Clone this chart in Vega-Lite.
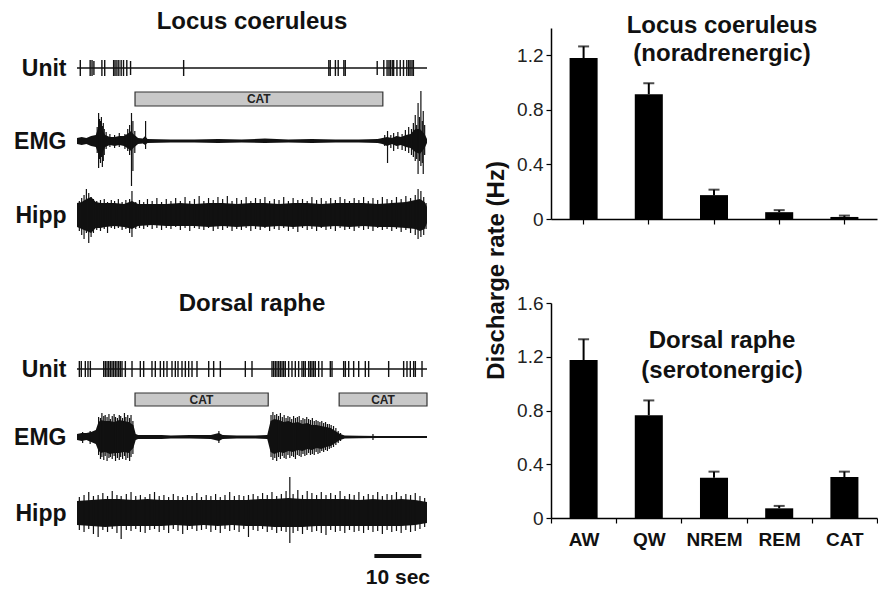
{
  "$schema": "https://vega.github.io/schema/vega-lite/v6.json",
  "background": "white",
  "padding": {"left": 13, "top": 10, "right": 0, "bottom": 0},
  "config": {
    "font": "Liberation Sans",
    "view": {"stroke": null},
    "axis": {"grid": false, "labelFont": "Liberation Sans", "titleFont": "Liberation Sans"},
    "title": {"font": "Liberation Sans", "fontWeight": "bold", "color": "#111", "fontSize": 24}
  },
  "datasets": {
    "lcBase": [{"start": 0, "end": 74.5}],
    "lcSpikes": [
      {"t": 0.7, "lo": -8, "hi": 8}, {"t": 2.8, "lo": -8, "hi": 8}, {"t": 3.2, "lo": -8, "hi": 8}, {"t": 3.6, "lo": -7, "hi": 7},
      {"t": 5.3, "lo": -8, "hi": 8}, {"t": 5.9, "lo": -8, "hi": 8}, {"t": 7.8, "lo": -8, "hi": 8}, {"t": 8.1, "lo": -8, "hi": 8},
      {"t": 8.5, "lo": -8, "hi": 8}, {"t": 8.9, "lo": -8, "hi": 8}, {"t": 9.4, "lo": -8, "hi": 8}, {"t": 9.9, "lo": -8, "hi": 8},
      {"t": 10.6, "lo": -8, "hi": 8}, {"t": 11.4, "lo": -7, "hi": 7}, {"t": 22.7, "lo": -8, "hi": 8}, {"t": 53.6, "lo": -8, "hi": 8},
      {"t": 53.9, "lo": -8, "hi": 8}, {"t": 55.0, "lo": -8, "hi": 8}, {"t": 55.6, "lo": -8, "hi": 8}, {"t": 56.8, "lo": -8, "hi": 8},
      {"t": 57.1, "lo": -8, "hi": 8}, {"t": 63.9, "lo": -7, "hi": 7}, {"t": 65.3, "lo": -8, "hi": 8}, {"t": 66.0, "lo": -8, "hi": 8},
      {"t": 66.4, "lo": -8, "hi": 8}, {"t": 66.7, "lo": -8, "hi": 8}, {"t": 67.1, "lo": -8, "hi": 8}, {"t": 67.4, "lo": -8, "hi": 8},
      {"t": 68.1, "lo": -8, "hi": 8}, {"t": 68.8, "lo": -8, "hi": 8}, {"t": 69.5, "lo": -8, "hi": 8}, {"t": 70.2, "lo": -8, "hi": 8},
      {"t": 70.6, "lo": -8, "hi": 8}, {"t": 70.9, "lo": -8, "hi": 8}, {"t": 71.3, "lo": -8, "hi": 8}, {"t": 71.6, "lo": -8, "hi": 8}
    ],
    "lcCat": [{"start": 12.35, "end": 65.1, "mid": 38.7, "label": "CAT"}],
    "lcEmgEnv": [
      {"t": 0, "lo": -3, "hi": 3}, {"t": 1, "lo": -4, "hi": 4}, {"t": 2, "lo": -3, "hi": 3}, {"t": 3, "lo": -5, "hi": 5},
      {"t": 4, "lo": -6, "hi": 6}, {"t": 4.5, "lo": -12, "hi": 13}, {"t": 5, "lo": -14, "hi": 14}, {"t": 5.5, "lo": -11, "hi": 10},
      {"t": 6, "lo": -6, "hi": 6}, {"t": 7, "lo": -4, "hi": 4}, {"t": 8, "lo": -5, "hi": 4}, {"t": 9, "lo": -4, "hi": 5},
      {"t": 10, "lo": -5, "hi": 5}, {"t": 11, "lo": -8, "hi": 8}, {"t": 11.5, "lo": -10, "hi": 10}, {"t": 12, "lo": -7, "hi": 7},
      {"t": 13, "lo": -3, "hi": 3}, {"t": 14, "lo": -2.5, "hi": 2.5}, {"t": 14.5, "lo": -4, "hi": 5}, {"t": 15, "lo": -2, "hi": 2},
      {"t": 20, "lo": -1.5, "hi": 1.5}, {"t": 25, "lo": -1.5, "hi": 1.5}, {"t": 30, "lo": -2, "hi": 2}, {"t": 35, "lo": -1.5, "hi": 1.5},
      {"t": 40, "lo": -2, "hi": 2.5}, {"t": 45, "lo": -1.5, "hi": 1.5}, {"t": 50, "lo": -2, "hi": 2}, {"t": 55, "lo": -1.5, "hi": 1.5},
      {"t": 60, "lo": -1.5, "hi": 1.5}, {"t": 64, "lo": -2, "hi": 2}, {"t": 65, "lo": -3, "hi": 3}, {"t": 66, "lo": -5, "hi": 4},
      {"t": 67, "lo": -3, "hi": 3}, {"t": 68, "lo": -5, "hi": 5}, {"t": 69, "lo": -4, "hi": 4}, {"t": 70, "lo": -6, "hi": 6},
      {"t": 71, "lo": -7, "hi": 7}, {"t": 72, "lo": -11, "hi": 12}, {"t": 73, "lo": -13, "hi": 12}, {"t": 74, "lo": -7, "hi": 7},
      {"t": 74.5, "lo": -2, "hi": 2}
    ],
    "lcEmgSpk": [
      {"t": 4.3, "lo": -12, "hi": 14}, {"t": 4.6, "lo": -27, "hi": 28}, {"t": 4.8, "lo": -18, "hi": 22}, {"t": 5.0, "lo": -22, "hi": 20},
      {"t": 5.2, "lo": -16, "hi": 24}, {"t": 5.4, "lo": -26, "hi": 15}, {"t": 5.6, "lo": -20, "hi": 18}, {"t": 5.8, "lo": -14, "hi": 12},
      {"t": 6.2, "lo": -8, "hi": 9}, {"t": 7.0, "lo": -6, "hi": 7}, {"t": 8.0, "lo": -7, "hi": 6}, {"t": 9.0, "lo": -6, "hi": 8},
      {"t": 10.2, "lo": -8, "hi": 7}, {"t": 10.8, "lo": -10, "hi": 12}, {"t": 11.2, "lo": -14, "hi": 16}, {"t": 11.6, "lo": -45, "hi": 28},
      {"t": 11.9, "lo": -30, "hi": 20}, {"t": 12.3, "lo": -12, "hi": 10}, {"t": 14.6, "lo": -8, "hi": 20}, {"t": 65.5, "lo": -5, "hi": 6},
      {"t": 66.1, "lo": -22, "hi": 10}, {"t": 66.8, "lo": -7, "hi": 6}, {"t": 67.4, "lo": -10, "hi": 8}, {"t": 68.3, "lo": -8, "hi": 9},
      {"t": 69.2, "lo": -9, "hi": 7}, {"t": 69.9, "lo": -10, "hi": 11}, {"t": 70.6, "lo": -12, "hi": 14}, {"t": 71.2, "lo": -14, "hi": 12},
      {"t": 71.6, "lo": -16, "hi": 18}, {"t": 72.0, "lo": -20, "hi": 26}, {"t": 72.3, "lo": -18, "hi": 16}, {"t": 72.6, "lo": -33, "hi": 38},
      {"t": 72.9, "lo": -20, "hi": 24}, {"t": 73.2, "lo": -25, "hi": 50}, {"t": 73.5, "lo": -22, "hi": 20}, {"t": 73.7, "lo": -33, "hi": 30},
      {"t": 74.0, "lo": -14, "hi": 16}
    ],
    "lcHippEnv": [
      {"t": 0, "lo": -12, "hi": 12}, {"t": 1, "lo": -14, "hi": 13}, {"t": 2, "lo": -16, "hi": 16}, {"t": 3, "lo": -18, "hi": 18},
      {"t": 4, "lo": -13, "hi": 13}, {"t": 5, "lo": -13, "hi": 12}, {"t": 6, "lo": -12, "hi": 12}, {"t": 8, "lo": -11, "hi": 12},
      {"t": 10, "lo": -12, "hi": 11}, {"t": 11.7, "lo": -14, "hi": 14}, {"t": 13, "lo": -11, "hi": 11}, {"t": 16, "lo": -10, "hi": 11},
      {"t": 19, "lo": -11, "hi": 11}, {"t": 22, "lo": -11, "hi": 12}, {"t": 25, "lo": -11, "hi": 11}, {"t": 28, "lo": -12, "hi": 12},
      {"t": 31, "lo": -11, "hi": 12}, {"t": 34, "lo": -12, "hi": 11}, {"t": 37, "lo": -11, "hi": 12}, {"t": 40, "lo": -12, "hi": 12},
      {"t": 43, "lo": -11, "hi": 11}, {"t": 46, "lo": -12, "hi": 12}, {"t": 49, "lo": -11, "hi": 12}, {"t": 52, "lo": -12, "hi": 11},
      {"t": 55, "lo": -11, "hi": 12}, {"t": 58, "lo": -12, "hi": 12}, {"t": 61, "lo": -11, "hi": 12}, {"t": 64, "lo": -12, "hi": 11},
      {"t": 67, "lo": -12, "hi": 12}, {"t": 70, "lo": -13, "hi": 13}, {"t": 72, "lo": -14, "hi": 15}, {"t": 73, "lo": -16, "hi": 16},
      {"t": 74, "lo": -14, "hi": 13}, {"t": 74.5, "lo": -8, "hi": 8}
    ],
    "lcHippSpk": [
      {"t": 0.5, "lo": -16, "hi": 14}, {"t": 1.0, "lo": -20, "hi": 17}, {"t": 1.5, "lo": -24, "hi": 20}, {"t": 2.0, "lo": -18, "hi": 26},
      {"t": 2.5, "lo": -28, "hi": 22}, {"t": 3.0, "lo": -22, "hi": 18}, {"t": 3.5, "lo": -18, "hi": 16}, {"t": 4.2, "lo": -15, "hi": 14},
      {"t": 5.0, "lo": -16, "hi": 15}, {"t": 5.8, "lo": -14, "hi": 16}, {"t": 6.5, "lo": -18, "hi": 13}, {"t": 7.3, "lo": -13, "hi": 15},
      {"t": 8.0, "lo": -14, "hi": 14}, {"t": 8.8, "lo": -13, "hi": 16}, {"t": 9.6, "lo": -15, "hi": 13}, {"t": 10.4, "lo": -14, "hi": 15},
      {"t": 11.2, "lo": -18, "hi": 16}, {"t": 11.7, "lo": -22, "hi": 24}, {"t": 12.5, "lo": -14, "hi": 13}, {"t": 13.3, "lo": -13, "hi": 15},
      {"t": 14.2, "lo": -14, "hi": 13}, {"t": 15.0, "lo": -12, "hi": 16}, {"t": 16.0, "lo": -14, "hi": 14}, {"t": 17.0, "lo": -13, "hi": 17},
      {"t": 18.0, "lo": -15, "hi": 13}, {"t": 19.0, "lo": -13, "hi": 16}, {"t": 20.0, "lo": -14, "hi": 14}, {"t": 21.0, "lo": -12, "hi": 17},
      {"t": 22.0, "lo": -15, "hi": 14}, {"t": 23.0, "lo": -13, "hi": 18}, {"t": 24.0, "lo": -16, "hi": 14}, {"t": 25.0, "lo": -13, "hi": 16},
      {"t": 26.0, "lo": -14, "hi": 19}, {"t": 27.0, "lo": -15, "hi": 14}, {"t": 28.0, "lo": -13, "hi": 17}, {"t": 29.0, "lo": -16, "hi": 15},
      {"t": 30.0, "lo": -14, "hi": 18}, {"t": 31.0, "lo": -15, "hi": 16}, {"t": 32.0, "lo": -13, "hi": 19}, {"t": 33.0, "lo": -16, "hi": 14},
      {"t": 34.0, "lo": -14, "hi": 17}, {"t": 35.0, "lo": -15, "hi": 15}, {"t": 36.0, "lo": -13, "hi": 18}, {"t": 37.0, "lo": -16, "hi": 14},
      {"t": 38.0, "lo": -14, "hi": 17}, {"t": 39.0, "lo": -15, "hi": 16}, {"t": 40.0, "lo": -13, "hi": 18}, {"t": 41.0, "lo": -16, "hi": 14},
      {"t": 42.0, "lo": -14, "hi": 16}, {"t": 43.0, "lo": -15, "hi": 15}, {"t": 44.0, "lo": -13, "hi": 18}, {"t": 45.0, "lo": -16, "hi": 14},
      {"t": 46.0, "lo": -14, "hi": 17}, {"t": 47.0, "lo": -17, "hi": 15}, {"t": 48.0, "lo": -13, "hi": 16}, {"t": 49.0, "lo": -15, "hi": 14},
      {"t": 50.0, "lo": -14, "hi": 18}, {"t": 51.0, "lo": -16, "hi": 15}, {"t": 52.0, "lo": -13, "hi": 17}, {"t": 53.0, "lo": -15, "hi": 14},
      {"t": 54.0, "lo": -14, "hi": 17}, {"t": 55.0, "lo": -16, "hi": 15}, {"t": 56.0, "lo": -13, "hi": 18}, {"t": 57.0, "lo": -15, "hi": 16},
      {"t": 58.0, "lo": -14, "hi": 14}, {"t": 59.0, "lo": -16, "hi": 17}, {"t": 60.0, "lo": -13, "hi": 15}, {"t": 61.0, "lo": -15, "hi": 18},
      {"t": 62.0, "lo": -14, "hi": 14}, {"t": 63.0, "lo": -16, "hi": 17}, {"t": 64.0, "lo": -13, "hi": 15}, {"t": 65.0, "lo": -15, "hi": 18},
      {"t": 66.0, "lo": -14, "hi": 16}, {"t": 67.0, "lo": -16, "hi": 15}, {"t": 68.0, "lo": -14, "hi": 18}, {"t": 69.0, "lo": -17, "hi": 16},
      {"t": 70.0, "lo": -15, "hi": 19}, {"t": 71.0, "lo": -18, "hi": 17}, {"t": 72.0, "lo": -20, "hi": 20}, {"t": 72.6, "lo": -24, "hi": 26},
      {"t": 73.2, "lo": -22, "hi": 24}, {"t": 73.8, "lo": -20, "hi": 18}, {"t": 74.3, "lo": -14, "hi": 12}
    ],
    "drBase": [{"start": 0, "end": 74.5}],
    "drSpikes": [
      {"t": 0.5}, {"t": 0.92}, {"t": 1.77}, {"t": 2.34}, {"t": 2.84}, {"t": 5.68}, {"t": 6.03}, {"t": 6.39}, {"t": 6.74},
      {"t": 7.09}, {"t": 7.45}, {"t": 7.8}, {"t": 8.16}, {"t": 8.51}, {"t": 8.87}, {"t": 9.22}, {"t": 9.58}, {"t": 10.29},
      {"t": 11.71}, {"t": 13.48}, {"t": 14.19}, {"t": 15.96}, {"t": 16.67}, {"t": 17.74}, {"t": 18.45}, {"t": 19.16},
      {"t": 20.22}, {"t": 20.93}, {"t": 21.5}, {"t": 22.35}, {"t": 23.06}, {"t": 23.77}, {"t": 24.48}, {"t": 25.54},
      {"t": 28.03}, {"t": 29.09}, {"t": 30.51}, {"t": 35.83}, {"t": 37.25}, {"t": 41.51}, {"t": 41.86}, {"t": 42.22},
      {"t": 42.57}, {"t": 42.93}, {"t": 43.28}, {"t": 43.64}, {"t": 43.99}, {"t": 44.34}, {"t": 45.05}, {"t": 45.76},
      {"t": 46.47}, {"t": 47.18}, {"t": 47.89}, {"t": 48.25}, {"t": 48.6}, {"t": 49.31}, {"t": 49.67}, {"t": 50.02},
      {"t": 50.38}, {"t": 50.73}, {"t": 51.44}, {"t": 52.15}, {"t": 53.92}, {"t": 54.28}, {"t": 56.76}, {"t": 57.12},
      {"t": 57.83}, {"t": 58.89}, {"t": 59.96}, {"t": 61.37}, {"t": 62.08}, {"t": 66.34}, {"t": 69.53}, {"t": 70.24},
      {"t": 70.95}, {"t": 71.66}, {"t": 72.02}, {"t": 73.44}
    ],
    "drCat": [
      {"start": 12.35, "end": 40.7, "mid": 26.5, "label": "CAT"},
      {"start": 55.8, "end": 74.5, "mid": 65.15, "label": "CAT"}
    ],
    "drEmgEnv": [
      {"t": 0, "lo": -3, "hi": 3}, {"t": 1, "lo": -4, "hi": 4}, {"t": 2, "lo": -3, "hi": 4}, {"t": 3, "lo": -5, "hi": 5},
      {"t": 4, "lo": -7, "hi": 7}, {"t": 4.5, "lo": -13, "hi": 14}, {"t": 5, "lo": -16, "hi": 17}, {"t": 6, "lo": -15, "hi": 16},
      {"t": 7, "lo": -17, "hi": 16}, {"t": 8, "lo": -16, "hi": 15}, {"t": 9, "lo": -16, "hi": 17}, {"t": 10, "lo": -15, "hi": 16},
      {"t": 11, "lo": -16, "hi": 15}, {"t": 12, "lo": -11, "hi": 12}, {"t": 12.5, "lo": -3, "hi": 3}, {"t": 13, "lo": -2, "hi": 2},
      {"t": 15, "lo": -2, "hi": 2}, {"t": 18, "lo": -2, "hi": 2}, {"t": 20, "lo": -1.5, "hi": 1.5}, {"t": 24, "lo": -1.5, "hi": 2},
      {"t": 28.5, "lo": -2, "hi": 2}, {"t": 30.2, "lo": -4, "hi": 4}, {"t": 31, "lo": -2, "hi": 2}, {"t": 34, "lo": -1.5, "hi": 1.5},
      {"t": 38, "lo": -1.5, "hi": 1.5}, {"t": 40.5, "lo": -2, "hi": 2}, {"t": 41.2, "lo": -15, "hi": 16}, {"t": 42, "lo": -17, "hi": 18},
      {"t": 43, "lo": -15, "hi": 17}, {"t": 44, "lo": -16, "hi": 15}, {"t": 45, "lo": -14, "hi": 16}, {"t": 46, "lo": -15, "hi": 14},
      {"t": 47, "lo": -13, "hi": 15}, {"t": 48, "lo": -14, "hi": 13}, {"t": 49, "lo": -12, "hi": 14}, {"t": 50, "lo": -13, "hi": 12},
      {"t": 51, "lo": -11, "hi": 12}, {"t": 52, "lo": -12, "hi": 11}, {"t": 53, "lo": -10, "hi": 10}, {"t": 54, "lo": -9, "hi": 9},
      {"t": 55, "lo": -6, "hi": 6}, {"t": 56, "lo": -3, "hi": 3}, {"t": 57, "lo": -1.5, "hi": 1.5}, {"t": 60, "lo": -1.2, "hi": 1.2},
      {"t": 64, "lo": -1, "hi": 1}, {"t": 68, "lo": -1, "hi": 1}, {"t": 72, "lo": -1, "hi": 1}, {"t": 74.5, "lo": -1, "hi": 1}
    ],
    "drEmgSpk": [
      {"t": 1.2, "lo": -6, "hi": 5}, {"t": 2.8, "lo": -7, "hi": 6},
      {"t": 4.6, "lo": -18, "hi": 20}, {"t": 5.0, "lo": -22, "hi": 19}, {"t": 5.3, "lo": -20, "hi": 24}, {"t": 5.7, "lo": -23, "hi": 21},
      {"t": 6.0, "lo": -19, "hi": 22}, {"t": 6.4, "lo": -24, "hi": 20}, {"t": 6.8, "lo": -21, "hi": 23}, {"t": 7.1, "lo": -20, "hi": 18},
      {"t": 7.5, "lo": -22, "hi": 21}, {"t": 7.9, "lo": -19, "hi": 23}, {"t": 8.2, "lo": -24, "hi": 20}, {"t": 8.6, "lo": -21, "hi": 19},
      {"t": 9.0, "lo": -23, "hi": 22}, {"t": 9.3, "lo": -20, "hi": 21}, {"t": 9.7, "lo": -22, "hi": 19}, {"t": 10.1, "lo": -19, "hi": 24},
      {"t": 10.4, "lo": -23, "hi": 20}, {"t": 10.8, "lo": -21, "hi": 22}, {"t": 11.2, "lo": -24, "hi": 19}, {"t": 11.5, "lo": -20, "hi": 22},
      {"t": 11.9, "lo": -17, "hi": 16}, {"t": 30.2, "lo": -6, "hi": 6},
      {"t": 41.3, "lo": -20, "hi": 22}, {"t": 41.7, "lo": -23, "hi": 25}, {"t": 42.1, "lo": -21, "hi": 22}, {"t": 42.5, "lo": -24, "hi": 23},
      {"t": 42.9, "lo": -20, "hi": 21}, {"t": 43.3, "lo": -22, "hi": 24}, {"t": 43.7, "lo": -19, "hi": 20}, {"t": 44.1, "lo": -21, "hi": 22},
      {"t": 44.5, "lo": -22, "hi": 19}, {"t": 44.9, "lo": -18, "hi": 21}, {"t": 45.3, "lo": -21, "hi": 20}, {"t": 45.7, "lo": -19, "hi": 18},
      {"t": 46.1, "lo": -20, "hi": 21}, {"t": 46.5, "lo": -22, "hi": 19}, {"t": 46.9, "lo": -18, "hi": 20}, {"t": 47.3, "lo": -19, "hi": 21},
      {"t": 47.7, "lo": -20, "hi": 17}, {"t": 48.1, "lo": -17, "hi": 19}, {"t": 48.5, "lo": -19, "hi": 18}, {"t": 48.9, "lo": -18, "hi": 20},
      {"t": 49.3, "lo": -16, "hi": 18}, {"t": 49.7, "lo": -18, "hi": 17}, {"t": 50.1, "lo": -17, "hi": 19}, {"t": 50.5, "lo": -18, "hi": 16},
      {"t": 50.9, "lo": -15, "hi": 17}, {"t": 51.3, "lo": -17, "hi": 16}, {"t": 51.7, "lo": -16, "hi": 15}, {"t": 52.1, "lo": -14, "hi": 16},
      {"t": 52.5, "lo": -15, "hi": 14}, {"t": 52.9, "lo": -13, "hi": 15}, {"t": 53.3, "lo": -14, "hi": 13}, {"t": 53.7, "lo": -12, "hi": 13},
      {"t": 54.1, "lo": -11, "hi": 12}, {"t": 54.6, "lo": -10, "hi": 11}, {"t": 55.1, "lo": -8, "hi": 9}, {"t": 55.6, "lo": -6, "hi": 6},
      {"t": 56.1, "lo": -4, "hi": 4}, {"t": 63, "lo": -3, "hi": 3}
    ],
    "drHippEnv": [
      {"t": 0, "lo": -12, "hi": 12}, {"t": 3, "lo": -13, "hi": 13}, {"t": 6, "lo": -14, "hi": 14}, {"t": 9, "lo": -13, "hi": 14},
      {"t": 12, "lo": -13, "hi": 13}, {"t": 15, "lo": -13, "hi": 14}, {"t": 18, "lo": -13, "hi": 13}, {"t": 21, "lo": -12, "hi": 13},
      {"t": 24, "lo": -13, "hi": 13}, {"t": 27, "lo": -12, "hi": 13}, {"t": 30, "lo": -13, "hi": 13}, {"t": 33, "lo": -12, "hi": 13},
      {"t": 36, "lo": -13, "hi": 13}, {"t": 39, "lo": -13, "hi": 14}, {"t": 42, "lo": -14, "hi": 14}, {"t": 45, "lo": -14, "hi": 15},
      {"t": 48, "lo": -14, "hi": 14}, {"t": 51, "lo": -13, "hi": 14}, {"t": 54, "lo": -13, "hi": 14}, {"t": 57, "lo": -13, "hi": 14},
      {"t": 60, "lo": -13, "hi": 13}, {"t": 63, "lo": -13, "hi": 14}, {"t": 66, "lo": -13, "hi": 13}, {"t": 69, "lo": -13, "hi": 14},
      {"t": 72, "lo": -12, "hi": 13}, {"t": 74.5, "lo": -10, "hi": 11}
    ],
    "drHippSpk": [
      {"t": 0.5, "lo": -17, "hi": 16}, {"t": 1.5, "lo": -19, "hi": 18}, {"t": 2.5, "lo": -16, "hi": 21}, {"t": 3.5, "lo": -21, "hi": 17},
      {"t": 4.5, "lo": -24, "hi": 18}, {"t": 5.5, "lo": -17, "hi": 20}, {"t": 6.5, "lo": -19, "hi": 17}, {"t": 7.5, "lo": -16, "hi": 22},
      {"t": 8.5, "lo": -20, "hi": 18}, {"t": 9.4, "lo": -26, "hi": 17}, {"t": 10.5, "lo": -17, "hi": 19}, {"t": 11.5, "lo": -18, "hi": 21},
      {"t": 12.5, "lo": -16, "hi": 17}, {"t": 13.5, "lo": -19, "hi": 18}, {"t": 14.5, "lo": -20, "hi": 16}, {"t": 15.5, "lo": -17, "hi": 19},
      {"t": 16.5, "lo": -16, "hi": 21}, {"t": 17.5, "lo": -19, "hi": 17}, {"t": 18.5, "lo": -17, "hi": 18}, {"t": 19.5, "lo": -20, "hi": 16},
      {"t": 20.5, "lo": -16, "hi": 19}, {"t": 21.5, "lo": -18, "hi": 17}, {"t": 22.5, "lo": -21, "hi": 16}, {"t": 23.5, "lo": -17, "hi": 18},
      {"t": 24.5, "lo": -16, "hi": 17}, {"t": 25.5, "lo": -18, "hi": 20}, {"t": 26.5, "lo": -17, "hi": 16}, {"t": 27.5, "lo": -16, "hi": 18},
      {"t": 28.5, "lo": -19, "hi": 17}, {"t": 29.5, "lo": -17, "hi": 19}, {"t": 30.5, "lo": -20, "hi": 16}, {"t": 31.5, "lo": -16, "hi": 18},
      {"t": 32.5, "lo": -18, "hi": 21}, {"t": 33.5, "lo": -17, "hi": 17}, {"t": 34.5, "lo": -19, "hi": 18}, {"t": 35.5, "lo": -16, "hi": 17},
      {"t": 36.5, "lo": -24, "hi": 18}, {"t": 37.5, "lo": -17, "hi": 19}, {"t": 38.5, "lo": -18, "hi": 17}, {"t": 39.5, "lo": -16, "hi": 20},
      {"t": 40.5, "lo": -19, "hi": 18}, {"t": 41.5, "lo": -17, "hi": 21}, {"t": 42.5, "lo": -20, "hi": 17}, {"t": 43.5, "lo": -18, "hi": 19},
      {"t": 44.5, "lo": -19, "hi": 22}, {"t": 45.3, "lo": -30, "hi": 36}, {"t": 46.0, "lo": -20, "hi": 19}, {"t": 47.0, "lo": -18, "hi": 23},
      {"t": 48.0, "lo": -21, "hi": 18}, {"t": 49.0, "lo": -17, "hi": 22}, {"t": 50.0, "lo": -19, "hi": 20}, {"t": 51.0, "lo": -18, "hi": 18},
      {"t": 52.0, "lo": -20, "hi": 21}, {"t": 53.0, "lo": -22, "hi": 18}, {"t": 54.0, "lo": -17, "hi": 20}, {"t": 55.0, "lo": -19, "hi": 18},
      {"t": 56.0, "lo": -18, "hi": 22}, {"t": 57.0, "lo": -20, "hi": 17}, {"t": 58.0, "lo": -17, "hi": 19}, {"t": 59.0, "lo": -19, "hi": 18},
      {"t": 60.0, "lo": -18, "hi": 21}, {"t": 61.0, "lo": -20, "hi": 17}, {"t": 62.0, "lo": -17, "hi": 19}, {"t": 63.0, "lo": -19, "hi": 18},
      {"t": 64.0, "lo": -18, "hi": 21}, {"t": 65.0, "lo": -21, "hi": 17}, {"t": 66.0, "lo": -17, "hi": 19}, {"t": 67.0, "lo": -19, "hi": 18},
      {"t": 68.0, "lo": -18, "hi": 21}, {"t": 69.0, "lo": -20, "hi": 17}, {"t": 70.0, "lo": -17, "hi": 19}, {"t": 71.0, "lo": -19, "hi": 18},
      {"t": 72.0, "lo": -18, "hi": 20}, {"t": 73.0, "lo": -16, "hi": 17}, {"t": 74.0, "lo": -14, "hi": 15}
    ],
    "scaleBar": [{"start": 63.3, "end": 73.3, "mid": 68.3, "label": "10 sec"}],
    "lc": [
      {"state": "AW", "rate": 1.18, "err": 1.265},
      {"state": "QW", "rate": 0.915, "err": 0.995},
      {"state": "NREM", "rate": 0.175, "err": 0.215},
      {"state": "REM", "rate": 0.05, "err": 0.065},
      {"state": "CAT", "rate": 0.015, "err": 0.025}
    ],
    "dr": [
      {"state": "AW", "rate": 1.176, "err": 1.33},
      {"state": "QW", "rate": 0.765, "err": 0.875},
      {"state": "NREM", "rate": 0.3, "err": 0.345},
      {"state": "REM", "rate": 0.072, "err": 0.09},
      {"state": "CAT", "rate": 0.305, "err": 0.345}
    ]
  },
  "spacing": 54,
  "hconcat": [
    {
      "bounds": "flush",
      "spacing": 0,
      "vconcat": [
        {
          "width": 350, "height": 64,
          "title": {"text": "Locus coeruleus", "offset": -6, "frame": "group", "anchor": "middle"},
          "layer": [
            {
              "data": {"name": "lcBase"},
              "mark": {"type": "rule", "strokeWidth": 1.6, "color": "#111"},
              "encoding": {
                "x": {"field": "start", "type": "quantitative", "scale": {"domain": [0, 74.5], "nice": false, "zero": false}, "axis": null},
                "x2": {"field": "end"},
                "y": {"datum": 0, "type": "quantitative", "scale": {"domain": [-24, 40], "nice": false, "zero": false},
                  "axis": {"values": [0], "labelExpr": "'Unit'", "domain": false, "ticks": false, "tickSize": 0, "title": null, "labelFontSize": 23, "labelFontWeight": "bold", "labelColor": "#111", "labelPadding": 11, "labelAlign": "right", "labelBaseline": "middle"}}
              }
            },
            {
              "data": {"name": "lcSpikes"},
              "mark": {"type": "rule", "strokeWidth": 1.4, "color": "#111"},
              "encoding": {
                "x": {"field": "t", "type": "quantitative"},
                "y": {"field": "lo", "type": "quantitative"},
                "y2": {"field": "hi"}
              }
            }
          ]
        },
        {
          "width": 350, "height": 14,
          "data": {"name": "lcCat"},
          "layer": [
            {
              "mark": {"type": "bar", "color": "#c8c8c8", "stroke": "#333", "strokeWidth": 1.2},
              "encoding": {
                "x": {"field": "start", "type": "quantitative", "scale": {"domain": [0, 74.5], "nice": false, "zero": false}, "axis": null},
                "x2": {"field": "end"},
                "y": {"datum": 0, "type": "quantitative", "scale": {"domain": [0, 1], "nice": false, "zero": false}, "axis": null},
                "y2": {"datum": 1}
              }
            },
            {
              "mark": {"type": "text", "fontSize": 12, "fontWeight": "bold", "color": "#222"},
              "encoding": {
                "x": {"field": "mid", "type": "quantitative"},
                "y": {"datum": 0.5, "type": "quantitative"},
                "text": {"field": "label"}
              }
            }
          ]
        },
        {
          "width": 350, "height": 70,
          "layer": [
            {
              "data": {"name": "lcEmgEnv"},
              "mark": {"type": "area", "color": "#111", "interpolate": "linear"},
              "encoding": {
                "x": {"field": "t", "type": "quantitative", "scale": {"domain": [0, 74.5], "nice": false, "zero": false}, "axis": null},
                "y": {"field": "hi", "type": "quantitative", "scale": {"domain": [-35, 35], "nice": false, "zero": false},
                  "axis": {"values": [0], "labelExpr": "'EMG'", "domain": false, "ticks": false, "tickSize": 0, "title": null, "labelFontSize": 23, "labelFontWeight": "bold", "labelColor": "#111", "labelPadding": 11, "labelAlign": "right", "labelBaseline": "middle"}},
                "y2": {"field": "lo"}
              }
            },
            {
              "data": {"name": "lcEmgSpk"},
              "mark": {"type": "rule", "strokeWidth": 1.2, "color": "#111"},
              "encoding": {
                "x": {"field": "t", "type": "quantitative"},
                "y": {"field": "lo", "type": "quantitative"},
                "y2": {"field": "hi"}
              }
            }
          ]
        },
        {
          "width": 350, "height": 78,
          "layer": [
            {
              "data": {"name": "lcHippEnv"},
              "mark": {"type": "area", "color": "#111", "interpolate": "linear"},
              "encoding": {
                "x": {"field": "t", "type": "quantitative", "scale": {"domain": [0, 74.5], "nice": false, "zero": false}, "axis": null},
                "y": {"field": "hi", "type": "quantitative", "scale": {"domain": [-39, 39], "nice": false, "zero": false},
                  "axis": {"values": [0], "labelExpr": "'Hipp'", "domain": false, "ticks": false, "tickSize": 0, "title": null, "labelFontSize": 23, "labelFontWeight": "bold", "labelColor": "#111", "labelPadding": 11, "labelAlign": "right", "labelBaseline": "middle"}},
                "y2": {"field": "lo"}
              }
            },
            {
              "data": {"name": "lcHippSpk"},
              "mark": {"type": "rule", "strokeWidth": 1.2, "color": "#111"},
              "encoding": {
                "x": {"field": "t", "type": "quantitative"},
                "y": {"field": "lo", "type": "quantitative"},
                "y2": {"field": "hi"}
              }
            }
          ]
        },
        {
          "width": 350, "height": 139,
          "title": {"text": "Dorsal raphe", "offset": -62, "frame": "group", "anchor": "middle"},
          "layer": [
            {
              "data": {"name": "drBase"},
              "mark": {"type": "rule", "strokeWidth": 1.6, "color": "#111"},
              "encoding": {
                "x": {"field": "start", "type": "quantitative", "scale": {"domain": [0, 74.5], "nice": false, "zero": false}, "axis": null},
                "x2": {"field": "end"},
                "y": {"datum": 0, "type": "quantitative", "scale": {"domain": [-24, 115], "nice": false, "zero": false},
                  "axis": {"values": [0], "labelExpr": "'Unit'", "domain": false, "ticks": false, "tickSize": 0, "title": null, "labelFontSize": 23, "labelFontWeight": "bold", "labelColor": "#111", "labelPadding": 11, "labelAlign": "right", "labelBaseline": "middle"}}
              }
            },
            {
              "data": {"name": "drSpikes"},
              "mark": {"type": "rule", "strokeWidth": 1.4, "color": "#111"},
              "encoding": {
                "x": {"field": "t", "type": "quantitative"},
                "y": {"datum": -8, "type": "quantitative"},
                "y2": {"datum": 8}
              }
            }
          ]
        },
        {
          "width": 350, "height": 13,
          "data": {"name": "drCat"},
          "layer": [
            {
              "mark": {"type": "bar", "color": "#c8c8c8", "stroke": "#333", "strokeWidth": 1.2},
              "encoding": {
                "x": {"field": "start", "type": "quantitative", "scale": {"domain": [0, 74.5], "nice": false, "zero": false}, "axis": null},
                "x2": {"field": "end"},
                "y": {"datum": 0, "type": "quantitative", "scale": {"domain": [0, 1], "nice": false, "zero": false}, "axis": null},
                "y2": {"datum": 1}
              }
            },
            {
              "mark": {"type": "text", "fontSize": 12, "fontWeight": "bold", "color": "#222"},
              "encoding": {
                "x": {"field": "mid", "type": "quantitative"},
                "y": {"datum": 0.5, "type": "quantitative"},
                "text": {"field": "label"}
              }
            }
          ]
        },
        {
          "width": 350, "height": 62,
          "layer": [
            {
              "data": {"name": "drEmgEnv"},
              "mark": {"type": "area", "color": "#111", "interpolate": "linear"},
              "encoding": {
                "x": {"field": "t", "type": "quantitative", "scale": {"domain": [0, 74.5], "nice": false, "zero": false}, "axis": null},
                "y": {"field": "hi", "type": "quantitative", "scale": {"domain": [-31, 31], "nice": false, "zero": false},
                  "axis": {"values": [0], "labelExpr": "'EMG'", "domain": false, "ticks": false, "tickSize": 0, "title": null, "labelFontSize": 23, "labelFontWeight": "bold", "labelColor": "#111", "labelPadding": 11, "labelAlign": "right", "labelBaseline": "middle"}},
                "y2": {"field": "lo"}
              }
            },
            {
              "data": {"name": "drEmgSpk"},
              "mark": {"type": "rule", "strokeWidth": 1.2, "color": "#111"},
              "encoding": {
                "x": {"field": "t", "type": "quantitative"},
                "y": {"field": "lo", "type": "quantitative"},
                "y2": {"field": "hi"}
              }
            }
          ]
        },
        {
          "width": 350, "height": 80,
          "layer": [
            {
              "data": {"name": "drHippEnv"},
              "mark": {"type": "area", "color": "#111", "interpolate": "linear"},
              "encoding": {
                "x": {"field": "t", "type": "quantitative", "scale": {"domain": [0, 74.5], "nice": false, "zero": false}, "axis": null},
                "y": {"field": "hi", "type": "quantitative", "scale": {"domain": [-35, 45], "nice": false, "zero": false},
                  "axis": {"values": [0], "labelExpr": "'Hipp'", "domain": false, "ticks": false, "tickSize": 0, "title": null, "labelFontSize": 23, "labelFontWeight": "bold", "labelColor": "#111", "labelPadding": 11, "labelAlign": "right", "labelBaseline": "middle"}},
                "y2": {"field": "lo"}
              }
            },
            {
              "data": {"name": "drHippSpk"},
              "mark": {"type": "rule", "strokeWidth": 1.2, "color": "#111"},
              "encoding": {
                "x": {"field": "t", "type": "quantitative"},
                "y": {"field": "lo", "type": "quantitative"},
                "y2": {"field": "hi"}
              }
            }
          ]
        },
        {
          "width": 350, "height": 16,
          "data": {"name": "scaleBar"},
          "layer": [
            {
              "mark": {"type": "rule", "strokeWidth": 4, "color": "#111"},
              "encoding": {
                "x": {"field": "start", "type": "quantitative", "scale": {"domain": [0, 74.5], "nice": false, "zero": false}, "axis": null},
                "x2": {"field": "end"},
                "y": {"datum": 0, "type": "quantitative", "scale": {"domain": [-8, 8], "nice": false, "zero": false}, "axis": null}
              }
            },
            {
              "mark": {"type": "text", "fontSize": 21, "fontWeight": "bold", "color": "#111", "dy": 22},
              "encoding": {
                "x": {"field": "mid", "type": "quantitative"},
                "y": {"datum": 0, "type": "quantitative"},
                "text": {"field": "label"}
              }
            }
          ]
        }
      ]
    },
    {
      "bounds": "flush",
      "spacing": 84,
      "vconcat": [
        {
          "width": 326, "height": 191,
          "title": {"text": ["Locus coeruleus", "(noradrenergic)"], "offset": -38, "dx": 8, "lineHeight": 28, "frame": "group", "anchor": "middle"},
          "data": {"name": "lc"},
          "encoding": {
            "x": {"field": "state", "type": "nominal", "sort": ["AW", "QW", "NREM", "REM", "CAT"], "scale": {"paddingInner": 0, "paddingOuter": 0},
              "axis": {"labels": false, "title": null, "ticks": true, "tickSize": 5, "tickColor": "#000", "domainColor": "#000", "domainWidth": 1.5, "tickWidth": 1.2}}
          },
          "layer": [
            {
              "mark": {"type": "bar", "color": "#000", "width": {"band": 0.43}},
              "encoding": {
                "y": {"field": "rate", "type": "quantitative", "scale": {"domain": [0, 1.4], "nice": false},
                  "axis": {"values": [0, 0.2, 0.4, 0.6, 0.8, 1.0, 1.2, 1.4], "format": ".1~f", "labelExpr": "(datum.value == 0 || datum.value == 0.4 || datum.value == 0.8 || datum.value == 1.2) ? datum.label : ''",
                    "labelFontSize": 19, "labelColor": "#222", "labelPadding": 3, "tickSize": 5, "tickColor": "#000", "domainColor": "#000", "domainWidth": 1.5, "tickWidth": 1.2,
                    "title": "Discharge rate (Hz)", "titleFontSize": 24, "titleFontWeight": "bold", "titleColor": "#111", "titleAngle": -90, "titleX": -43, "titleY": 242, "titleAlign": "center", "titleBaseline": "bottom"}}
              }
            },
            {
              "mark": {"type": "rule", "strokeWidth": 2, "color": "#000"},
              "encoding": {"y": {"field": "rate", "type": "quantitative"}, "y2": {"field": "err"}}
            },
            {
              "mark": {"type": "tick", "orient": "horizontal", "size": 11, "thickness": 2, "color": "#000"},
              "encoding": {"y": {"field": "err", "type": "quantitative"}}
            }
          ]
        },
        {
          "width": 326, "height": 215,
          "title": {"text": ["Dorsal raphe", "(serotonergic)"], "offset": -89, "dx": 8, "lineHeight": 30, "frame": "group", "anchor": "middle"},
          "data": {"name": "dr"},
          "encoding": {
            "x": {"field": "state", "type": "nominal", "sort": ["AW", "QW", "NREM", "REM", "CAT"], "scale": {"paddingInner": 0, "paddingOuter": 0},
              "axis": {"title": null, "labelAngle": 0, "labelFontSize": 19, "labelFontWeight": "bold", "labelColor": "#111", "labelPadding": 7, "tickBand": "extent", "tickSize": 5, "tickColor": "#000", "domainColor": "#000", "domainWidth": 1.5, "tickWidth": 1.2}}
          },
          "layer": [
            {
              "mark": {"type": "bar", "color": "#000", "width": {"band": 0.43}},
              "encoding": {
                "y": {"field": "rate", "type": "quantitative", "scale": {"domain": [0, 1.6], "nice": false},
                  "axis": {"values": [0, 0.4, 0.8, 1.2, 1.6], "format": ".1~f", "labelFontSize": 19, "labelColor": "#222", "labelPadding": 3, "tickSize": 5, "tickColor": "#000", "domainColor": "#000", "domainWidth": 1.5, "tickWidth": 1.2, "title": null}}
              }
            },
            {
              "mark": {"type": "rule", "strokeWidth": 2, "color": "#000"},
              "encoding": {"y": {"field": "rate", "type": "quantitative"}, "y2": {"field": "err"}}
            },
            {
              "mark": {"type": "tick", "orient": "horizontal", "size": 11, "thickness": 2, "color": "#000"},
              "encoding": {"y": {"field": "err", "type": "quantitative"}}
            }
          ]
        }
      ]
    }
  ]
}
